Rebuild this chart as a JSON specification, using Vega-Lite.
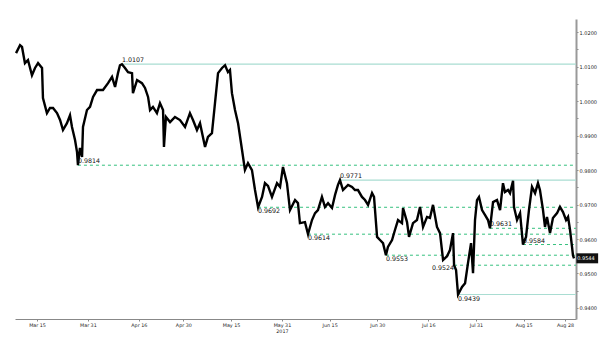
{
  "$schema": "https://vega.github.io/schema/vega-lite/v6.json",
  "width": 561,
  "height": 300,
  "autosize": {"type": "none"},
  "padding": {"left": 15, "top": 19, "right": 24, "bottom": 21},
  "background": "white",
  "config": {
    "view": {"stroke": null},
    "axis": {"labelFont": "DejaVu Sans", "labelColor": "#222", "grid": false}
  },
  "datasets": {
    "price": [
      {"d":"2017-03-08T10:00","v":1.0139},{"d":"2017-03-09T16:00","v":1.0162},{"d":"2017-03-10T07:00","v":1.0157},
      {"d":"2017-03-11T05:00","v":1.0110},{"d":"2017-03-12T04:00","v":1.0119},{"d":"2017-03-13T10:00","v":1.0075},
      {"d":"2017-03-14T09:00","v":1.0096},{"d":"2017-03-15T08:00","v":1.0110},{"d":"2017-03-16T14:00","v":1.0096},
      {"d":"2017-03-16T21:00","v":1.0009},{"d":"2017-03-18T03:00","v":0.9965},{"d":"2017-03-19T02:00","v":0.9980},
      {"d":"2017-03-20T01:00","v":0.9980},{"d":"2017-03-21T07:00","v":0.9965},{"d":"2017-03-22T06:00","v":0.9945},
      {"d":"2017-03-23T04:00","v":0.9916},{"d":"2017-03-24T10:00","v":0.9936},{"d":"2017-03-25T09:00","v":0.9959},
      {"d":"2017-03-26T00:00","v":0.9925},{"d":"2017-03-26T23:00","v":0.9887},{"d":"2017-03-27T14:00","v":0.9852},
      {"d":"2017-03-27T21:00","v":0.9814},{"d":"2017-03-28T12:00","v":0.9864},{"d":"2017-03-29T04:00","v":0.9838},
      {"d":"2017-03-29T11:00","v":0.9925},{"d":"2017-03-30T17:00","v":0.9974},{"d":"2017-03-31T16:00","v":0.9983},
      {"d":"2017-04-01T15:00","v":1.0012},{"d":"2017-04-02T21:00","v":1.0032},{"d":"2017-04-04T18:00","v":1.0032},
      {"d":"2017-04-06T08:00","v":1.0052},{"d":"2017-04-07T14:00","v":1.0070},{"d":"2017-04-08T13:00","v":1.0041},
      {"d":"2017-04-09T11:00","v":1.0081},{"d":"2017-04-10T02:00","v":1.0104},{"d":"2017-04-10T17:00","v":1.0107},
      {"d":"2017-04-11T16:00","v":1.0096},{"d":"2017-04-12T15:00","v":1.0084},{"d":"2017-04-13T21:00","v":1.0081},
      {"d":"2017-04-14T04:00","v":1.0023},{"d":"2017-04-15T11:00","v":1.0061},{"d":"2017-04-17T00:00","v":1.0052},
      {"d":"2017-04-17T23:00","v":1.0038},{"d":"2017-04-18T22:00","v":1.0012},{"d":"2017-04-19T13:00","v":0.9974},
      {"d":"2017-04-20T11:00","v":0.9983},{"d":"2017-04-21T17:00","v":0.9965},{"d":"2017-04-22T16:00","v":0.9994},
      {"d":"2017-04-23T15:00","v":0.9974},{"d":"2017-04-23T22:00","v":0.9867},{"d":"2017-04-24T13:00","v":0.9954},
      {"d":"2017-04-25T20:00","v":0.9939},{"d":"2017-04-27T09:00","v":0.9954},{"d":"2017-04-28T23:00","v":0.9945},
      {"d":"2017-04-30T13:00","v":0.9925},{"d":"2017-05-02T02:00","v":0.9965},{"d":"2017-05-03T01:00","v":0.9945},
      {"d":"2017-05-04T07:00","v":0.9916},{"d":"2017-05-05T06:00","v":0.9936},{"d":"2017-05-06T20:00","v":0.9867},
      {"d":"2017-05-07T18:00","v":0.9896},{"d":"2017-05-09T00:00","v":0.9907},{"d":"2017-05-09T23:00","v":0.9994},
      {"d":"2017-05-10T22:00","v":1.0081},{"d":"2017-05-12T04:00","v":1.0096},{"d":"2017-05-13T03:00","v":1.0104},
      {"d":"2017-05-14T01:00","v":1.0084},{"d":"2017-05-14T16:00","v":1.0090},{"d":"2017-05-15T07:00","v":1.0023},
      {"d":"2017-05-16T06:00","v":0.9974},{"d":"2017-05-17T05:00","v":0.9936},{"d":"2017-05-18T11:00","v":0.9858},
      {"d":"2017-05-19T09:00","v":0.9800},{"d":"2017-05-20T08:00","v":0.9820},{"d":"2017-05-21T14:00","v":0.9800},
      {"d":"2017-05-22T13:00","v":0.9742},{"d":"2017-05-23T12:00","v":0.9692},{"d":"2017-05-24T18:00","v":0.9722},
      {"d":"2017-05-25T16:00","v":0.9762},{"d":"2017-05-26T15:00","v":0.9754},{"d":"2017-05-27T21:00","v":0.9722},
      {"d":"2017-05-29T11:00","v":0.9762},{"d":"2017-05-30T10:00","v":0.9751},{"d":"2017-05-31T08:00","v":0.9809},
      {"d":"2017-06-01T14:00","v":0.9762},{"d":"2017-06-02T13:00","v":0.9684},{"d":"2017-06-04T03:00","v":0.9713},
      {"d":"2017-06-05T01:00","v":0.9704},{"d":"2017-06-05T16:00","v":0.9646},{"d":"2017-06-07T06:00","v":0.9649},
      {"d":"2017-06-08T05:00","v":0.9614},{"d":"2017-06-09T11:00","v":0.9655},{"d":"2017-06-10T10:00","v":0.9675},
      {"d":"2017-06-11T08:00","v":0.9684},{"d":"2017-06-12T14:00","v":0.9722},{"d":"2017-06-13T13:00","v":0.9693},
      {"d":"2017-06-14T12:00","v":0.9704},{"d":"2017-06-15T18:00","v":0.9690},{"d":"2017-06-16T17:00","v":0.9728},
      {"d":"2017-06-17T15:00","v":0.9757},{"d":"2017-06-18T06:00","v":0.9771},{"d":"2017-06-19T05:00","v":0.9742},
      {"d":"2017-06-20T19:00","v":0.9757},{"d":"2017-06-22T01:00","v":0.9751},{"d":"2017-06-22T23:00","v":0.9742},
      {"d":"2017-06-23T22:00","v":0.9742},{"d":"2017-06-25T04:00","v":0.9722},{"d":"2017-06-26T03:00","v":0.9713},
      {"d":"2017-06-27T02:00","v":0.9699},{"d":"2017-06-28T08:00","v":0.9733},{"d":"2017-06-28T23:00","v":0.9722},
      {"d":"2017-06-29T22:00","v":0.9606},{"d":"2017-06-30T20:00","v":0.9597},{"d":"2017-07-01T19:00","v":0.9588},
      {"d":"2017-07-02T17:00","v":0.9553},{"d":"2017-07-03T08:00","v":0.9577},{"d":"2017-07-04T15:00","v":0.9597},
      {"d":"2017-07-05T13:00","v":0.9626},{"d":"2017-07-06T12:00","v":0.9655},{"d":"2017-07-07T18:00","v":0.9646},
      {"d":"2017-07-08T02:00","v":0.9690},{"d":"2017-07-09T08:00","v":0.9649},{"d":"2017-07-09T23:00","v":0.9606},
      {"d":"2017-07-11T05:00","v":0.9646},{"d":"2017-07-12T11:00","v":0.9655},{"d":"2017-07-13T10:00","v":0.9693},
      {"d":"2017-07-14T09:00","v":0.9635},{"d":"2017-07-15T15:00","v":0.9664},{"d":"2017-07-16T13:00","v":0.9661},
      {"d":"2017-07-17T12:00","v":0.9699},{"d":"2017-07-18T18:00","v":0.9635},{"d":"2017-07-19T17:00","v":0.9617},
      {"d":"2017-07-20T16:00","v":0.9539},{"d":"2017-07-21T22:00","v":0.9550},{"d":"2017-07-22T20:00","v":0.9568},
      {"d":"2017-07-23T19:00","v":0.9617},{"d":"2017-07-24T03:00","v":0.9524},{"d":"2017-07-24T18:00","v":0.9510},
      {"d":"2017-07-25T09:00","v":0.9439},{"d":"2017-07-26T15:00","v":0.9461},{"d":"2017-07-27T14:00","v":0.9472},
      {"d":"2017-07-28T12:00","v":0.9530},{"d":"2017-07-29T11:00","v":0.9588},{"d":"2017-07-30T02:00","v":0.9501},
      {"d":"2017-07-30T17:00","v":0.9655},{"d":"2017-07-31T08:00","v":0.9713},{"d":"2017-07-31T23:00","v":0.9722},
      {"d":"2017-08-01T22:00","v":0.9684},{"d":"2017-08-02T20:00","v":0.9670},{"d":"2017-08-03T19:00","v":0.9655},
      {"d":"2017-08-04T10:00","v":0.9631},{"d":"2017-08-05T09:00","v":0.9707},{"d":"2017-08-06T15:00","v":0.9713},
      {"d":"2017-08-07T14:00","v":0.9684},{"d":"2017-08-08T12:00","v":0.9762},{"d":"2017-08-09T03:00","v":0.9736},
      {"d":"2017-08-10T02:00","v":0.9742},{"d":"2017-08-10T17:00","v":0.9733},{"d":"2017-08-11T16:00","v":0.9769},
      {"d":"2017-08-11T23:00","v":0.9693},{"d":"2017-08-12T22:00","v":0.9655},{"d":"2017-08-13T21:00","v":0.9675},
      {"d":"2017-08-14T19:00","v":0.9584},{"d":"2017-08-15T18:00","v":0.9606},{"d":"2017-08-16T16:00","v":0.9684},
      {"d":"2017-08-17T15:00","v":0.9751},{"d":"2017-08-18T14:00","v":0.9733},{"d":"2017-08-19T12:00","v":0.9762},
      {"d":"2017-08-20T03:00","v":0.9742},{"d":"2017-08-21T02:00","v":0.9684},{"d":"2017-08-21T17:00","v":0.9635},
      {"d":"2017-08-22T08:00","v":0.9664},{"d":"2017-08-23T07:00","v":0.9617},{"d":"2017-08-24T05:00","v":0.9661},
      {"d":"2017-08-25T12:00","v":0.9675},{"d":"2017-08-26T10:00","v":0.9693},{"d":"2017-08-27T09:00","v":0.9678},
      {"d":"2017-08-28T08:00","v":0.9655},{"d":"2017-08-28T23:00","v":0.9664},{"d":"2017-08-29T14:00","v":0.9626},
      {"d":"2017-08-30T05:00","v":0.9577},{"d":"2017-08-30T12:00","v":0.9553},{"d":"2017-08-30T20:00","v":0.9544}
    ],
    "levels": [
      {"v":1.0107,"d":"2017-04-10T17:00","kind":"range","label":"1.0107"},
      {"v":0.9814,"d":"2017-03-27T21:00","kind":"swing","label":"0.9814"},
      {"v":0.9771,"d":"2017-06-18T06:00","kind":"range","label":"0.9771"},
      {"v":0.9692,"d":"2017-05-23T12:00","kind":"swing","label":"0.9692"},
      {"v":0.9631,"d":"2017-08-04T10:00","kind":"swing","label":"0.9631"},
      {"v":0.9614,"d":"2017-06-08T05:00","kind":"swing","label":"0.9614"},
      {"v":0.9584,"d":"2017-08-14T19:00","kind":"swing","label":"0.9584"},
      {"v":0.9553,"d":"2017-07-02T17:00","kind":"swing","label":"0.9553"},
      {"v":0.9524,"d":"2017-07-24T03:00","kind":"swing","label":"0.9524"},
      {"v":0.9439,"d":"2017-07-25T09:00","kind":"range","label":"0.9439"}
    ],
    "lastquote": [{"v":0.9544,"label":"0.9544"}]
  },
  "encoding": {
    "y": {
      "field": "v", "type": "quantitative",
      "scale": {"domain": [0.9368, 1.0238], "zero": false, "nice": false},
      "axis": {
        "title": null,
        "orient": "right",
        "values": [0.94, 0.945, 0.95, 0.955, 0.96, 0.965, 0.97, 0.975, 0.98, 0.985, 0.99, 0.995, 1.0, 1.005, 1.01, 1.015, 1.02],
        "format": ".4f",
        "labelExpr": "abs(round(datum.value * 1000) % 10) < 1 ? format(datum.value, '.4f') : ''",
        "labelFontSize": 5,
        "labelPadding": 1,
        "domainColor": "#999",
        "domainWidth": 2,
        "tickColor": "#888",
        "tickSize": 2,
        "labelOverlap": false,
        "labelFlush": false
      }
    }
  },
  "layer": [
    {
      "encoding": {
        "x": {
          "field": "d", "type": "temporal",
          "scale": {"domain": [{"year": 2017, "month": "mar", "date": 8, "hours": 2}, {"year": 2017, "month": "aug", "date": 31, "hours": 11}]},
          "axis": {
            "title": null,
            "values": [
              {"year": 2017, "month": "mar", "date": 15}, {"year": 2017, "month": "mar", "date": 31},
              {"year": 2017, "month": "apr", "date": 16}, {"year": 2017, "month": "apr", "date": 30},
              {"year": 2017, "month": "may", "date": 15}, {"year": 2017, "month": "may", "date": 31},
              {"year": 2017, "month": "jun", "date": 15}, {"year": 2017, "month": "jun", "date": 30},
              {"year": 2017, "month": "jul", "date": 16}, {"year": 2017, "month": "jul", "date": 31},
              {"year": 2017, "month": "aug", "date": 15}, {"year": 2017, "month": "aug", "date": 28}
            ],
            "format": "%b %d",
            "labelExpr": "(month(datum.value) == 4 && date(datum.value) == 31) ? ['May 31', '2017'] : timeFormat(datum.value, '%b %d')",
            "labelFontSize": 4.8,
            "labelPadding": 1,
            "labelLineHeight": 6,
            "domainColor": "#888",
            "tickColor": "#888",
            "tickSize": 2,
            "labelFlush": false,
            "labelOverlap": false
          }
        }
      },
      "layer": [
        {
          "data": {"name": "levels"},
          "transform": [{"filter": "datum.kind === 'range'"}],
          "mark": {"type": "rule", "stroke": "#a9ddd2", "strokeWidth": 1.2},
          "encoding": {
            "x2": {"datum": {"year": 2017, "month": "aug", "date": 31, "hours": 11}}
          }
        },
        {
          "data": {"name": "levels"},
          "transform": [{"filter": "datum.kind === 'swing'"}],
          "mark": {"type": "rule", "stroke": "#35c07e", "strokeWidth": 1, "strokeDash": [3, 3]},
          "encoding": {
            "x2": {"datum": {"year": 2017, "month": "aug", "date": 31, "hours": 11}}
          }
        },
        {
          "data": {"name": "price"},
          "mark": {"type": "line", "stroke": "#000", "strokeWidth": 2.4, "strokeJoin": "miter"}
        },
        {
          "data": {"name": "levels"},
          "transform": [{"filter": "indexof(['1.0107','0.9814','0.9771','0.9631','0.9584'], datum.label) >= 0"}],
          "mark": {"type": "text", "align": "left", "baseline": "bottom", "dy": -1, "font": "DejaVu Sans", "fontSize": 6.3, "fill": "#111"},
          "encoding": {"text": {"field": "label"}}
        },
        {
          "data": {"name": "levels"},
          "transform": [{"filter": "indexof(['0.9692','0.9614','0.9553','0.9439'], datum.label) >= 0"}],
          "mark": {"type": "text", "align": "left", "baseline": "top", "dy": 1, "font": "DejaVu Sans", "fontSize": 6.3, "fill": "#111"},
          "encoding": {"text": {"field": "label"}}
        },
        {
          "data": {"name": "levels"},
          "transform": [{"filter": "datum.label === '0.9524'"}],
          "mark": {"type": "text", "align": "right", "baseline": "middle", "dy": 3, "font": "DejaVu Sans", "fontSize": 6.3, "fill": "#111"},
          "encoding": {"text": {"field": "label"}}
        }
      ]
    },
    {
      "data": {"name": "lastquote"},
      "mark": {"type": "rule", "stroke": "#111", "strokeWidth": 10, "strokeCap": "butt", "clip": false},
      "encoding": {
        "x": {"datum": {"year": 2017, "month": 8, "date": 31, "hours": 14}, "type": "temporal"},
        "x2": {"datum": {"year": 2017, "month": 9, "date": 7, "hours": 10}}
      }
    },
    {
      "data": {"name": "lastquote"},
      "mark": {"type": "text", "align": "left", "baseline": "middle", "font": "DejaVu Sans", "fontSize": 5, "fill": "#fff", "clip": false},
      "encoding": {
        "x": {"datum": {"year": 2017, "month": 8, "date": 31, "hours": 20}, "type": "temporal"},
        "text": {"field": "label"}
      }
    }
  ]
}
